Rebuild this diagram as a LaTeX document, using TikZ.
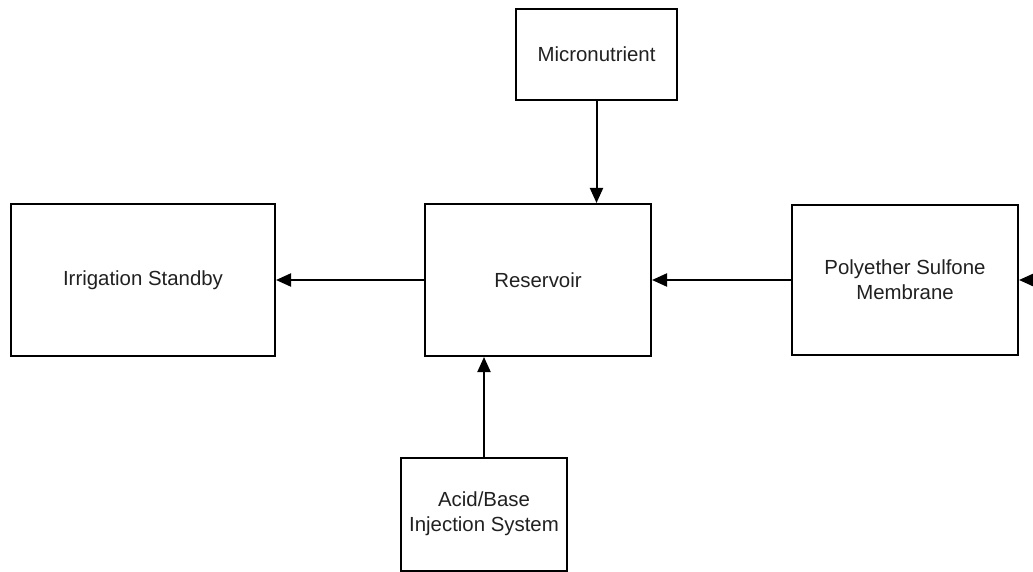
\documentclass[tikz,border=0pt]{standalone}
\usepackage{fontspec}
\setmainfont{Liberation Sans}
\usetikzlibrary{arrows.meta}
\begin{document}
\begin{tikzpicture}[x=1pt,y=-1pt,
  block/.style={draw=black, line width=2pt, fill=white, align=center,
    text=black!87, inner sep=0pt,
    font=\fontsize{20.4}{25}\selectfont},
  flow/.style={line width=2pt, -{Triangle[length=15pt,width=13pt]}}]
  \useasboundingbox[fill=white] (0,0) rectangle (1033,572);
  % process blocks
  \node[block, minimum width=264pt, minimum height=151pt] (irr) at (143,280) {Irrigation Standby};
  \node[block, minimum width=226pt, minimum height=152pt] (res) at (538,280) {Reservoir};
  \node[block, minimum width=161pt, minimum height=91pt] (mic) at (596.5,54.5) {Micronutrient};
  \node[block, minimum width=166pt, minimum height=113pt] (acid) at (484,514) {Acid/Base\\Injection System};
  \node[block, minimum width=226pt, minimum height=150pt] (pes) at (905,280) {Polyether Sulfone\\Membrane};
  \coordinate (feed) at (1050,280);
  % flows
  \draw[flow] (mic.south) -- (mic.south |- res.north);
  \draw[flow] (acid.north) -- (acid.north |- res.south);
  \draw[flow] (res.west) -- (irr.east);
  \draw[flow] (pes.west) -- (res.east);
  \draw[flow] (feed) -- (pes.east);
\end{tikzpicture}
\end{document}
